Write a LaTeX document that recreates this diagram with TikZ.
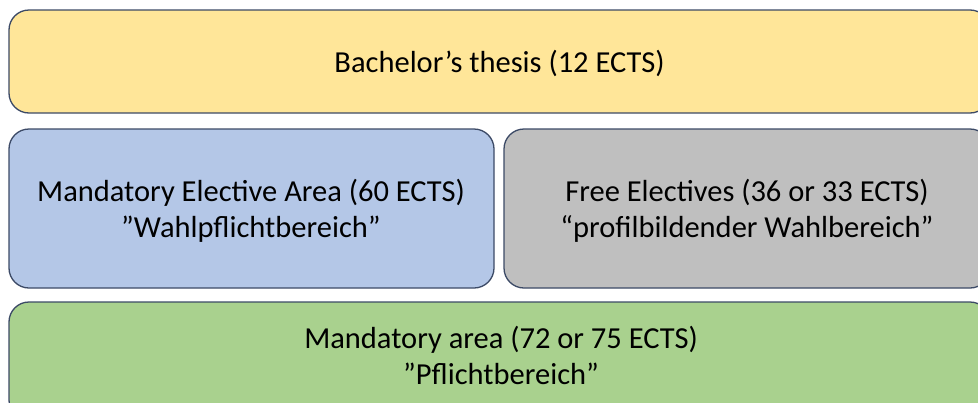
\documentclass[tikz,border=0pt]{standalone}
\usepackage{fontspec}
\setmainfont{Carlito}
\definecolor{yel}{HTML}{FFE699}
\definecolor{blu}{HTML}{B4C7E7}
\definecolor{gry}{HTML}{BFBFBF}
\definecolor{grn}{HTML}{A9D18E}
\definecolor{edge}{HTML}{3C4A66}
\begin{document}
\begin{tikzpicture}[x=1pt,y=-1pt,
  area/.style={draw=edge,line width=1.3pt,rounded corners=20pt},
  lbl/.style={font=\fontsize{30.5}{36}\selectfont,align=center,text=black,inner sep=0pt}]
\useasboundingbox (0,0) rectangle (978,402);
\clip (0,0) rectangle (978,402);
\filldraw[area,fill=yel] (9,10) rectangle (990,113);
\filldraw[area,fill=blu] (9,129) rectangle (494,288);
\filldraw[area,fill=gry] (504,129) rectangle (990,288);
\filldraw[area,fill=grn] (9,302) rectangle (990,420);
\node[lbl] (thesis) at (499.5,63) {Bachelor’s thesis (12 ECTS)};
\node[lbl] (mea) at (251,211) {Mandatory Elective Area (60 ECTS)\\”Wahlpflichtbereich”};
\node[lbl] (free) at (747,211) {Free Electives (36 or 33 ECTS)\\“profilbildender Wahlbereich”};
\node[lbl] (mand) at (501,355) {Mandatory area (72 or 75 ECTS)\\”Pflichtbereich”};
\end{tikzpicture}
\end{document}
